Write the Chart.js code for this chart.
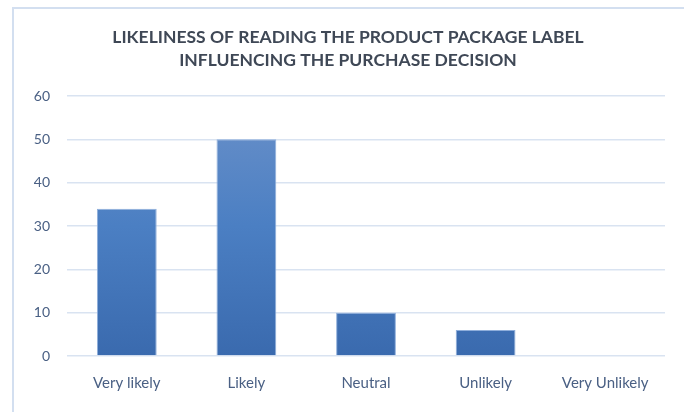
<!DOCTYPE html>
<html>
<head>
<meta charset="utf-8">
<script src="https://cdn.jsdelivr.net/npm/chart.js@4/dist/chart.umd.min.js"></script>
<style>
  html, body { margin: 0; padding: 0; background: #ffffff; }
  #wrap { position: relative; width: 686px; height: 412px; }
</style>
</head>
<body>
<div id="wrap"><canvas id="c" width="686" height="412"></canvas></div>
<script>
const categories = ["Very likely", "Likely", "Neutral", "Unlikely", "Very Unlikely"];
const values = [34, 50, 10, 6, 0];
const titleLines = ["LIKELINESS OF READING THE PRODUCT PACKAGE LABEL", "INFLUENCING THE PURCHASE DECISION"];
const yMin = 0, yMax = 60, yStep = 10;

const frame = {
  id: 'frame',
  beforeDraw(chart) {
    const ctx = chart.ctx;
    ctx.save();
    ctx.fillStyle = '#ffffff';
    ctx.fillRect(0, 0, chart.width, chart.height);
    ctx.strokeStyle = '#d3dff0';
    ctx.lineWidth = 2;
    ctx.beginPath();
    ctx.moveTo(13, chart.height);
    ctx.lineTo(13, 8);
    ctx.lineTo(chart.width - 2, 8);
    ctx.stroke();
    ctx.restore();
  },
  afterDraw(chart) {
    const ctx = chart.ctx;
    ctx.save();
    ctx.fillStyle = '#3f4856';
    ctx.font = 'bold 17.5px Lato';
    ctx.textAlign = 'center';
    ctx.textBaseline = 'middle';
    const cx = 348;
    titleLines.forEach((t, i) => ctx.fillText(t, cx, 37 + i * 23));
    ctx.restore();
  }
};

function barGradient(context) {
  const chart = context.chart;
  const area = chart.chartArea;
  if (!area) return '#4a7bbf';
  const g = chart.ctx.createLinearGradient(0, area.top, 0, area.bottom);
  g.addColorStop(0, '#6b91c9');
  g.addColorStop(0.5, '#4b7fc3');
  g.addColorStop(1, '#3a6aae');
  return g;
}

new Chart(document.getElementById('c'), {
  type: 'bar',
  data: {
    labels: categories,
    datasets: [{
      data: values,
      backgroundColor: barGradient,
      borderColor: '#8eaedb',
      borderWidth: 1,
      categoryPercentage: 1,
      barPercentage: 0.5
    }]
  },
  plugins: [frame],
  options: {
    responsive: false,
    animation: false,
    layout: { padding: { left: 12, right: 21, top: 96, bottom: 0 } },
    plugins: {
      legend: { display: false },
      tooltip: { enabled: false },
      title: { display: false }
    },
    scales: {
      x: {
        grid: { display: false, drawTicks: false },
        border: { display: false },
        ticks: { color: '#4a6084', font: { family: 'Lato', size: 15 }, padding: 18 },
        afterFit(s) { s.height = 56; }
      },
      y: {
        min: yMin, max: yMax,
        ticks: { stepSize: yStep, color: '#4a6084', font: { family: 'Lato', size: 14 }, padding: 17 },
        grid: { color: '#d9e3f1', lineWidth: 1.5, drawTicks: false },
        border: { display: false },
        afterFit(s) { s.width = 55; }
      }
    }
  }
});
</script>
</body>
</html>
